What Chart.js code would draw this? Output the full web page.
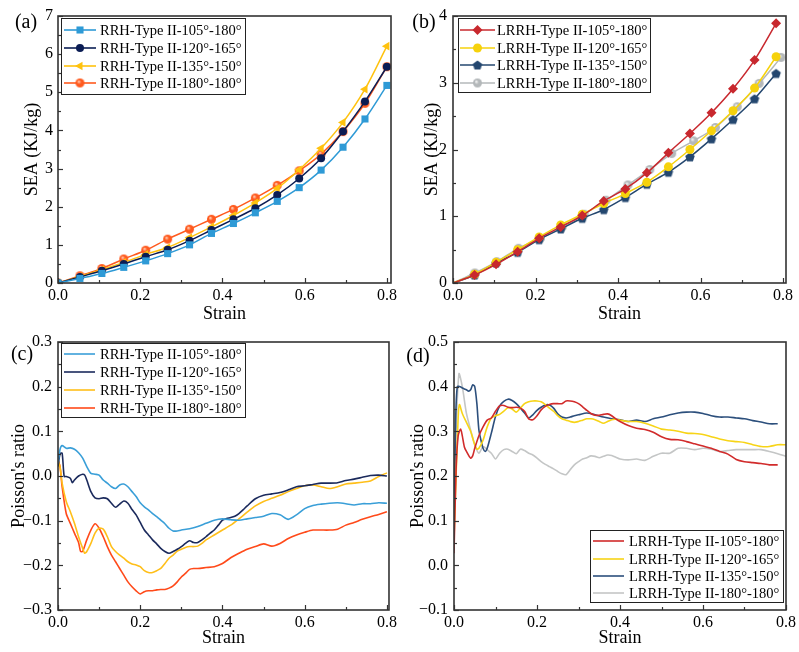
<!DOCTYPE html>
<html><head><meta charset="utf-8">
<script src="https://cdn.jsdelivr.net/npm/chart.js@4.4.0/dist/chart.umd.min.js"></script>
<style>
html,body{margin:0;padding:0;background:#fff;}
#wrap{position:relative;width:799px;height:652px;background:#fff;overflow:hidden;}
canvas{position:absolute;}
</style></head><body>
<div id="wrap">
<canvas id="ca" width="400" height="326" style="left:0;top:0;width:400px;height:326px"></canvas>
<canvas id="cb" width="399" height="326" style="left:400px;top:0;width:399px;height:326px"></canvas>
<canvas id="cc" width="400" height="326" style="left:0;top:326px;width:400px;height:326px"></canvas>
<canvas id="cd" width="399" height="326" style="left:400px;top:326px;width:399px;height:326px"></canvas>
</div>
<script>
// ---------------- DATA ----------------
const labelsRRH  = ['RRH-Type II-105°-180°','RRH-Type II-120°-165°','RRH-Type II-135°-150°','RRH-Type II-180°-180°'];
const labelsLRRH = ['LRRH-Type II-105°-180°','LRRH-Type II-120°-165°','LRRH-Type II-135°-150°','LRRH-Type II-180°-180°'];

const xTicks = [0, 0.2, 0.4, 0.6, 0.8];
const xTickLabels = ['0.0','0.2','0.4','0.6','0.8'];
const xMinor = [0.1, 0.3, 0.5, 0.7];
const yTicksA = [0,1,2,3,4,5,6,7];
const yTickLabelsA = ['0','1','2','3','4','5','6','7'];
const yMinorA = [0.5,1.5,2.5,3.5,4.5,5.5,6.5];
const yTicksB = [0,1,2,3,4];
const yTickLabelsB = ['0','1','2','3','4'];
const yMinorB = [0.5,1.5,2.5,3.5];
const yTicksC = [-0.3,-0.2,-0.1,0,0.1,0.2,0.3];
const yTickLabelsC = ['\u22120.3','\u22120.2','\u22120.1','0.0','0.1','0.2','0.3'];
const yMinorC = [-0.25,-0.15,-0.05,0.05,0.15,0.25];
const yTicksD = [-0.1,0,0.1,0.2,0.3,0.4,0.5];
const yTickLabelsD = ['\u22120.1','0.0','0.1','0.2','0.3','0.4','0.5'];
const yMinorD = [-0.05,0.05,0.15,0.25,0.35,0.45];

// (a) SEA RRH
const strainA = [0,0.0533,0.1067,0.16,0.2133,0.2667,0.32,0.3733,0.4267,0.48,0.5333,0.5867,0.64,0.6933,0.7467,0.8];
const seaA105 = [0,0.12,0.25,0.41,0.58,0.77,1.00,1.30,1.56,1.84,2.14,2.50,2.96,3.56,4.30,5.18];
const seaA120 = [0,0.16,0.32,0.50,0.69,0.87,1.11,1.39,1.67,1.96,2.31,2.74,3.27,3.97,4.76,5.67];
const seaA135 = [0,0.17,0.35,0.54,0.75,0.93,1.19,1.47,1.77,2.10,2.48,2.97,3.53,4.21,5.08,6.21];
const seaA180 = [0,0.19,0.38,0.63,0.86,1.15,1.41,1.67,1.93,2.23,2.56,2.94,3.38,3.97,4.71,5.67];

// (b) SEA LRRH
const strainB = [0,0.0522,0.1044,0.1566,0.2088,0.261,0.3132,0.3654,0.4176,0.4698,0.522,0.5742,0.6264,0.6786,0.7308,0.783];
const strainB180 = [0,0.053,0.106,0.159,0.212,0.265,0.318,0.371,0.424,0.477,0.53,0.583,0.636,0.689,0.742,0.795];
const seaB105 = [0,0.12,0.28,0.47,0.67,0.84,1.01,1.23,1.41,1.65,1.95,2.24,2.55,2.91,3.34,3.89];
const seaB120 = [0,0.13,0.31,0.50,0.69,0.87,1.03,1.19,1.34,1.51,1.74,2.00,2.28,2.58,2.92,3.39];
const seaB135 = [0,0.12,0.30,0.46,0.65,0.81,0.97,1.10,1.28,1.48,1.66,1.89,2.16,2.45,2.76,3.14];
const seaB180 = [0,0.15,0.32,0.52,0.67,0.84,1.03,1.24,1.47,1.70,1.94,2.13,2.33,2.64,2.99,3.38];

// (c) Poisson RRH
const strainC105 = [0,0.005,0.01,0.02,0.03,0.04,0.05,0.06,0.07,0.08,0.09,0.10,0.11,0.12,0.13,0.14,0.15,0.16,0.17,0.18,0.19,0.20,0.21,0.22,0.23,0.24,0.25,0.26,0.27,0.28,0.29,0.30,0.32,0.34,0.36,0.38,0.40,0.42,0.44,0.46,0.48,0.50,0.52,0.54,0.56,0.58,0.60,0.62,0.64,0.66,0.68,0.70,0.72,0.74,0.76,0.78,0.80];
const nuC105 = [0.028,0.06,0.068,0.062,0.063,0.06,0.052,0.04,0.021,0.006,0.004,0.002,-0.009,-0.016,-0.024,-0.028,-0.02,-0.018,-0.024,-0.035,-0.046,-0.06,-0.069,-0.076,-0.084,-0.091,-0.099,-0.107,-0.117,-0.123,-0.123,-0.121,-0.118,-0.113,-0.106,-0.099,-0.096,-0.098,-0.099,-0.096,-0.093,-0.09,-0.084,-0.087,-0.097,-0.087,-0.073,-0.066,-0.063,-0.061,-0.06,-0.062,-0.065,-0.062,-0.062,-0.06,-0.061];
const strainC120 = [0,0.005,0.01,0.015,0.02,0.03,0.035,0.04,0.05,0.06,0.065,0.07,0.08,0.09,0.10,0.11,0.12,0.13,0.14,0.15,0.16,0.17,0.18,0.19,0.20,0.21,0.22,0.23,0.24,0.25,0.26,0.27,0.28,0.29,0.30,0.31,0.32,0.33,0.34,0.35,0.36,0.37,0.38,0.39,0.40,0.41,0.42,0.43,0.44,0.45,0.46,0.48,0.50,0.52,0.54,0.56,0.58,0.60,0.62,0.64,0.66,0.68,0.70,0.72,0.74,0.76,0.78,0.80];
const nuC120 = [0.021,0.05,0.051,-0.001,-0.001,-0.005,-0.015,-0.009,0.0,0.004,0.002,-0.009,-0.035,-0.049,-0.051,-0.049,-0.051,-0.061,-0.07,-0.063,-0.056,-0.061,-0.075,-0.087,-0.104,-0.121,-0.132,-0.143,-0.152,-0.162,-0.169,-0.173,-0.169,-0.164,-0.158,-0.151,-0.145,-0.149,-0.149,-0.143,-0.136,-0.128,-0.121,-0.11,-0.099,-0.095,-0.093,-0.09,-0.084,-0.076,-0.067,-0.051,-0.043,-0.04,-0.037,-0.031,-0.024,-0.022,-0.019,-0.016,-0.016,-0.015,-0.01,-0.007,-0.003,0.001,0.002,0.0];
const strainC135 = [0,0.005,0.01,0.02,0.03,0.04,0.05,0.06,0.065,0.07,0.08,0.09,0.10,0.11,0.12,0.13,0.14,0.15,0.16,0.17,0.18,0.19,0.20,0.21,0.22,0.23,0.24,0.25,0.26,0.27,0.28,0.29,0.30,0.31,0.32,0.33,0.34,0.35,0.36,0.38,0.40,0.42,0.44,0.46,0.48,0.50,0.52,0.54,0.56,0.58,0.60,0.62,0.64,0.66,0.68,0.70,0.72,0.74,0.76,0.78,0.80];
const nuC135 = [0.036,0.02,-0.016,-0.057,-0.08,-0.106,-0.136,-0.162,-0.173,-0.169,-0.151,-0.128,-0.117,-0.119,-0.136,-0.158,-0.169,-0.177,-0.184,-0.192,-0.197,-0.199,-0.203,-0.212,-0.216,-0.216,-0.212,-0.207,-0.196,-0.184,-0.177,-0.168,-0.164,-0.16,-0.158,-0.158,-0.157,-0.151,-0.143,-0.132,-0.121,-0.11,-0.096,-0.081,-0.067,-0.057,-0.05,-0.043,-0.035,-0.028,-0.022,-0.02,-0.024,-0.028,-0.024,-0.018,-0.016,-0.014,-0.011,-0.001,0.007];
const strainC180 = [0,0.005,0.01,0.02,0.03,0.04,0.05,0.055,0.06,0.07,0.08,0.09,0.10,0.11,0.12,0.13,0.14,0.15,0.16,0.17,0.18,0.19,0.20,0.21,0.22,0.23,0.24,0.25,0.26,0.27,0.28,0.29,0.30,0.31,0.32,0.33,0.34,0.36,0.38,0.40,0.42,0.44,0.46,0.48,0.50,0.52,0.54,0.56,0.58,0.60,0.62,0.64,0.66,0.68,0.70,0.72,0.74,0.76,0.78,0.80];
const nuC180 = [0.036,0.021,-0.024,-0.084,-0.106,-0.128,-0.149,-0.169,-0.169,-0.143,-0.121,-0.107,-0.117,-0.136,-0.158,-0.177,-0.192,-0.207,-0.222,-0.237,-0.248,-0.257,-0.264,-0.259,-0.257,-0.257,-0.255,-0.254,-0.254,-0.251,-0.246,-0.237,-0.226,-0.218,-0.209,-0.207,-0.207,-0.205,-0.203,-0.196,-0.183,-0.173,-0.164,-0.158,-0.152,-0.157,-0.151,-0.14,-0.132,-0.126,-0.121,-0.121,-0.121,-0.119,-0.11,-0.104,-0.097,-0.091,-0.086,-0.08];

// (d) Poisson LRRH
const strainD105 = [0,0.005,0.01,0.016,0.02,0.025,0.03,0.04,0.045,0.05,0.06,0.07,0.08,0.09,0.10,0.11,0.12,0.13,0.14,0.15,0.16,0.17,0.18,0.19,0.20,0.21,0.22,0.23,0.24,0.25,0.26,0.27,0.28,0.29,0.30,0.31,0.32,0.33,0.34,0.35,0.36,0.37,0.38,0.39,0.40,0.42,0.44,0.46,0.48,0.50,0.52,0.54,0.56,0.58,0.60,0.62,0.64,0.66,0.68,0.70,0.72,0.74,0.76,0.78];
const nuD105 = [0.027,0.214,0.29,0.305,0.29,0.265,0.255,0.24,0.245,0.262,0.29,0.31,0.325,0.33,0.345,0.357,0.358,0.354,0.353,0.354,0.352,0.345,0.328,0.326,0.335,0.348,0.356,0.36,0.362,0.362,0.362,0.368,0.368,0.366,0.362,0.355,0.347,0.34,0.336,0.336,0.338,0.339,0.335,0.328,0.322,0.313,0.307,0.304,0.298,0.288,0.282,0.281,0.277,0.272,0.267,0.262,0.255,0.249,0.237,0.232,0.23,0.228,0.225,0.225];
const strainD120 = [0,0.005,0.01,0.013,0.02,0.03,0.04,0.05,0.055,0.06,0.07,0.08,0.09,0.10,0.11,0.12,0.13,0.14,0.15,0.16,0.17,0.18,0.19,0.20,0.21,0.22,0.23,0.24,0.25,0.26,0.27,0.28,0.29,0.30,0.31,0.32,0.33,0.34,0.35,0.36,0.37,0.38,0.39,0.40,0.42,0.44,0.46,0.48,0.50,0.52,0.54,0.56,0.58,0.60,0.62,0.64,0.66,0.68,0.70,0.72,0.74,0.76,0.78,0.80];
const nuD120 = [0.06,0.2,0.33,0.36,0.34,0.32,0.3,0.27,0.26,0.262,0.28,0.31,0.33,0.335,0.338,0.345,0.353,0.35,0.343,0.352,0.362,0.366,0.368,0.368,0.366,0.36,0.352,0.345,0.335,0.328,0.325,0.322,0.32,0.322,0.325,0.328,0.328,0.326,0.322,0.318,0.322,0.326,0.327,0.325,0.322,0.322,0.318,0.312,0.305,0.303,0.3,0.296,0.295,0.293,0.288,0.283,0.279,0.277,0.275,0.27,0.266,0.266,0.27,0.27];
const strainD135 = [0,0.004,0.008,0.015,0.02,0.03,0.035,0.04,0.045,0.05,0.055,0.06,0.065,0.07,0.075,0.08,0.09,0.10,0.11,0.12,0.13,0.14,0.15,0.16,0.17,0.18,0.19,0.20,0.21,0.22,0.23,0.24,0.25,0.26,0.27,0.28,0.29,0.30,0.32,0.34,0.36,0.38,0.40,0.42,0.44,0.46,0.48,0.50,0.52,0.54,0.56,0.58,0.60,0.62,0.64,0.66,0.68,0.70,0.72,0.74,0.76,0.78];
const nuD135 = [0.087,0.326,0.4,0.4,0.397,0.393,0.39,0.393,0.404,0.4,0.363,0.303,0.28,0.262,0.255,0.262,0.296,0.333,0.357,0.367,0.372,0.369,0.362,0.352,0.341,0.33,0.337,0.347,0.354,0.359,0.359,0.352,0.339,0.332,0.33,0.332,0.335,0.337,0.341,0.337,0.332,0.328,0.326,0.322,0.325,0.322,0.328,0.332,0.337,0.341,0.343,0.343,0.34,0.335,0.332,0.332,0.33,0.328,0.324,0.321,0.317,0.317];
const strainD180 = [0,0.005,0.012,0.02,0.03,0.04,0.05,0.06,0.07,0.08,0.09,0.10,0.11,0.12,0.13,0.14,0.15,0.16,0.17,0.18,0.19,0.20,0.21,0.22,0.23,0.24,0.25,0.26,0.27,0.28,0.29,0.30,0.31,0.32,0.33,0.34,0.35,0.36,0.37,0.38,0.39,0.40,0.42,0.44,0.46,0.48,0.50,0.52,0.54,0.56,0.58,0.60,0.62,0.64,0.66,0.68,0.70,0.72,0.74,0.76,0.78,0.80];
const nuD180 = [0.1,0.3,0.429,0.4,0.34,0.303,0.27,0.251,0.266,0.259,0.251,0.238,0.251,0.259,0.26,0.255,0.25,0.26,0.257,0.251,0.247,0.24,0.232,0.226,0.221,0.216,0.21,0.205,0.203,0.214,0.225,0.232,0.238,0.241,0.245,0.244,0.241,0.244,0.247,0.246,0.242,0.238,0.236,0.238,0.235,0.244,0.251,0.251,0.262,0.262,0.259,0.262,0.26,0.255,0.257,0.259,0.259,0.259,0.259,0.255,0.25,0.244];

// ---------------- HELPERS ----------------
const SERIF = "'Liberation Serif','Times New Roman',serif";
Chart.defaults.font.family = SERIF;
Chart.defaults.color = '#000';

function pts(xs, ys){ const n = Math.min(xs.length, ys.length); const o=[]; for(let i=0;i<n;i++) o.push({x:xs[i], y:ys[i]}); return o; }

function sphere(color, light, r){
  const s = Math.ceil(r*2+2); const c = document.createElement('canvas'); c.width=c.height=s;
  const g = c.getContext('2d');
  const grd = g.createRadialGradient(s/2-r*0.3, s/2-r*0.35, 0.3, s/2, s/2, r);
  grd.addColorStop(0, light); grd.addColorStop(0.45, color); grd.addColorStop(1, color);
  g.fillStyle = grd; g.beginPath(); g.arc(s/2, s/2, r, 0, Math.PI*2); g.fill();
  return c;
}
function pentagon(color, r){
  const s = Math.ceil(r*2+2); const c = document.createElement('canvas'); c.width=c.height=s;
  const g = c.getContext('2d'); g.fillStyle=color; g.beginPath();
  for(let i=0;i<5;i++){ const a=-Math.PI/2+i*2*Math.PI/5; const px=s/2+r*Math.cos(a), py=s/2+r*Math.sin(a)+0.5; i?g.lineTo(px,py):g.moveTo(px,py); }
  g.closePath(); g.fill(); return c;
}

const framePlugin = {
  id:'frame',
  afterDatasetsDraw(chart, args, o){
    const {ctx, chartArea:a, scales:{x, y}} = chart;
    ctx.save();
    ctx.strokeStyle = '#333'; ctx.lineWidth = 1.2;
    const tick = (x1,y1,x2,y2)=>{ ctx.beginPath(); ctx.moveTo(x1,y1); ctx.lineTo(x2,y2); ctx.stroke(); };
    o.xMajor.forEach(v=>{ const p=Math.round(x.getPixelForValue(v))+0.5; tick(p,a.bottom,p,a.bottom-5); });
    o.xMinor.forEach(v=>{ const p=Math.round(x.getPixelForValue(v))+0.5; tick(p,a.bottom,p,a.bottom-3); });
    o.yMajor.forEach(v=>{ const p=Math.round(y.getPixelForValue(v))+0.5; tick(a.left,p,a.left+5,p); });
    o.yMinor.forEach(v=>{ const p=Math.round(y.getPixelForValue(v))+0.5; tick(a.left,p,a.left+3,p); });
    ctx.lineWidth = 1.6; ctx.strokeStyle = '#333';
    ctx.strokeRect(a.left, a.top, a.right-a.left, a.bottom-a.top);
    ctx.restore();
  }
};
const legendPlugin = {
  id:'boxLegend',
  afterDraw(chart, args, o){
    const ctx = chart.ctx; ctx.save();
    ctx.fillStyle='#fff'; ctx.fillRect(o.x, o.y, o.w, o.h);
    ctx.strokeStyle='#222'; ctx.lineWidth=1; ctx.strokeRect(o.x+0.5, o.y+0.5, o.w, o.h);
    chart.data.datasets.forEach((ds,i)=>{
      const y = o.rows[i];
      ctx.strokeStyle = ds.borderColor; ctx.lineWidth = 1.6;
      ctx.beginPath(); ctx.moveTo(o.lx1, y); ctx.lineTo(o.lx2, y); ctx.stroke();
      if (o.markers){
        ctx.fillStyle = ds.pointBackgroundColor; ctx.strokeStyle = ds.pointBorderColor;
        Chart.helpers.drawPoint(ctx, {pointStyle: ds.pointStyle, rotation: ds.pointRotation||0, radius: ds.legendRadius, borderWidth: 0}, (o.lx1+o.lx2)/2, y);
      }
      ctx.fillStyle='#000'; ctx.font = o.fontSize+'px '+SERIF; ctx.textBaseline='middle'; ctx.textAlign='left';
      ctx.fillText(ds.label, o.tx, y+1);
    });
    ctx.restore();
  }
};
const panelLabel = {
  id:'panelLabel',
  afterDraw(chart, args, o){
    const ctx = chart.ctx; ctx.save();
    ctx.fillStyle='#000'; ctx.font = '20px '+SERIF; ctx.textAlign='center'; ctx.textBaseline='middle';
    ctx.fillText(o.text, o.x, o.y); ctx.restore();
  }
};

function makeChart(id, cfg){
  const xS = {
    type:'linear', min:0, max:cfg.xMax,
    afterBuildTicks: s => { s.ticks = xTicks.map(v=>({value:v})); },
    afterFit: s => { s.height = cfg.xH; },
    ticks:{ callback:(v,i)=>xTickLabels[i], font:{size:16}, color:'#000', padding:cfg.xTickPad, maxRotation:0, autoSkip:false },
    grid:{display:false, drawTicks:false}, border:{display:false},
    title:{display:true, text:'Strain', font:{size:18}, color:'#000', padding:{top:0, bottom:cfg.xTitlePad}}
  };
  const yS = {
    type:'linear', min:cfg.yMin, max:cfg.yMax,
    afterBuildTicks: s => { s.ticks = cfg.yTicks.map(v=>({value:v})); },
    afterFit: s => { s.width = cfg.yW; },
    ticks:{ callback:(v,i)=>cfg.yLabels[i], font:{size:16}, color:'#000', padding:cfg.yTickPad, autoSkip:false },
    grid:{display:false, drawTicks:false}, border:{display:false},
    title:{display:true, text:cfg.yTitle, font:{size:18}, color:'#000', padding:{top:cfg.yTitlePad, bottom:0}}
  };
  return new Chart(document.getElementById(id), {
    type:'line',
    data:{ datasets: cfg.datasets },
    options:{
      responsive:false, animation:false, devicePixelRatio:1,
      layout:{ padding:{ left:0, top:cfg.padTop, right:cfg.padRight, bottom:0 } },
      scales:{ x:xS, y:yS },
      plugins:{
        legend:{display:false}, tooltip:{enabled:false},
        frame:{ xMajor:xTicks, xMinor:xMinor, yMajor:cfg.yTicks, yMinor:cfg.yMinor },
        boxLegend: cfg.legend,
        panelLabel: cfg.panel
      }
    },
    plugins:[framePlugin, legendPlugin, panelLabel]
  });
}

function markerSet(label, color, xs, ys, style, radius, opts){
  const n = Math.min(xs.length, ys.length);
  const radii = []; for(let i=0;i<n;i++) radii.push(i===0 && opts.hideFirst ? 0 : radius);
  return Object.assign({
    label, data: pts(xs, ys), borderColor: color, backgroundColor: color,
    pointBackgroundColor: color, pointBorderColor: color, pointBorderWidth: 0,
    pointStyle: style, pointRadius: radii, legendRadius: radius, borderWidth: 1.5,
    cubicInterpolationMode:'monotone'
  }, opts.extra || {});
}
function lineSet(label, color, xs, ys){
  return { label, data: pts(xs, ys), borderColor: color, backgroundColor: color, pointRadius:0, borderWidth:1.6, tension:0.25 };
}

// (a)
const cA = { blue:'#2e9ad6', navy:'#0b1d54', yellow:'#ffc20e', orange:'#ff5a1e' };
makeChart('ca', {
  xMax:0.81, xH:43, xTickPad:3, xTitlePad:1,
  yMin:0, yMax:7, yTicks:yTicksA, yLabels:yTickLabelsA, yMinor:yMinorA, yW:58, yTickPad:5, yTitle:'SEA (KJ/kg)', yTitlePad:21,
  padTop:16, padRight:9,
  datasets:[
    markerSet(labelsRRH[0], cA.blue, strainA, seaA105, 'rect', 5, {}),
    markerSet(labelsRRH[1], cA.navy, strainA, seaA120, 'circle', 4, {}),
    markerSet(labelsRRH[2], cA.yellow, strainA, seaA135, 'triangle', 5, {extra:{pointRotation:-90}}),
    markerSet(labelsRRH[3], cA.orange, strainA, seaA180, sphere(cA.orange, '#ffd0b8', 4.5), 4.5, {})
  ],
  legend:{ x:61, y:18, w:184, h:76, rows:[30,48,66,83], lx1:64, lx2:96, tx:100, fontSize:14.5, markers:true },
  panel:{ text:'(a)', x:26, y:23 }
});

// (b)
const cB = { red:'#c8282e', yellow:'#f6d20c', navy:'#24476f', gray:'#b4b8ba' };
makeChart('cb', {
  xMax:0.807, xH:43, xTickPad:3, xTitlePad:1,
  yMin:0, yMax:4, yTicks:yTicksB, yLabels:yTickLabelsB, yMinor:yMinorB, yW:53, yTickPad:6, yTitle:'SEA (KJ/kg)', yTitlePad:21,
  padTop:16, padRight:13,
  datasets:[
    markerSet(labelsLRRH[0], cB.red, strainB, seaB105, 'rectRot', 5, {hideFirst:true}),
    markerSet(labelsLRRH[1], cB.yellow, strainB, seaB120, 'circle', 4.5, {hideFirst:true}),
    markerSet(labelsLRRH[2], cB.navy, strainB, seaB135, pentagon(cB.navy, 5), 5, {hideFirst:true}),
    markerSet(labelsLRRH[3], cB.gray, strainB180, seaB180, sphere(cB.gray, '#f4f4f4', 4.5), 4.5, {hideFirst:true})
  ],
  legend:{ x:58, y:18, w:192, h:74, rows:[30,48,65,83], lx1:60, lx2:95, tx:97, fontSize:14.5, markers:true },
  panel:{ text:'(b)', x:24, y:23 }
});

// (c)
const cC = { blue:'#3a9fd8', navy:'#1b2a5c', yellow:'#ffbf1a', orange:'#ff4a1a' };
makeChart('cc', {
  xMax:0.805, xH:42, xTickPad:3, xTitlePad:3,
  yMin:-0.3, yMax:0.3, yTicks:yTicksC, yLabels:yTickLabelsC, yMinor:yMinorC, yW:58, yTickPad:6, yTitle:"Poisson's ratio", yTitlePad:8,
  padTop:16, padRight:11,
  datasets:[
    lineSet(labelsRRH[0], cC.blue, strainC105, nuC105),
    lineSet(labelsRRH[1], cC.navy, strainC120, nuC120),
    lineSet(labelsRRH[2], cC.yellow, strainC135, nuC135),
    lineSet(labelsRRH[3], cC.orange, strainC180, nuC180)
  ],
  legend:{ x:61, y:17, w:184, h:74, rows:[28,46,64,82], lx1:64, lx2:95, tx:100, fontSize:14.5, markers:false },
  panel:{ text:'(c)', x:22, y:29 }
});

// (d)
const cD = { red:'#d12b2b', yellow:'#f7d417', navy:'#2c4f7c', gray:'#c4c6c6' };
makeChart('cd', {
  xMax:0.80, xH:42, xTickPad:3, xTitlePad:3,
  yMin:-0.1, yMax:0.5, yTicks:yTicksD, yLabels:yTickLabelsD, yMinor:yMinorD, yW:54, yTickPad:6, yTitle:"Poisson's ratio", yTitlePad:7,
  padTop:16, padRight:13,
  datasets:[
    lineSet(labelsLRRH[0], cD.red, strainD105, nuD105),
    lineSet(labelsLRRH[1], cD.yellow, strainD120, nuD120),
    lineSet(labelsLRRH[2], cD.navy, strainD135, nuD135),
    lineSet(labelsLRRH[3], cD.gray, strainD180, nuD180)
  ],
  legend:{ x:190, y:204, w:193, h:72, rows:[215,233,250,267], lx1:193, lx2:224, tx:229, fontSize:14.5, markers:false },
  panel:{ text:'(d)', x:18, y:31 }
});
</script>
</body></html>
